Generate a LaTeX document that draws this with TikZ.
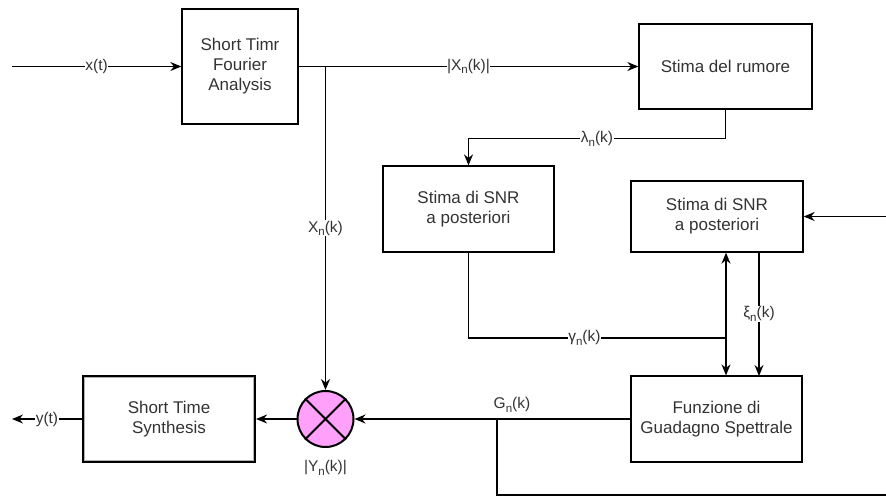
\documentclass[tikz,border=0pt]{standalone}
\usepackage{fontspec}
\setmainfont{Liberation Sans}
\usetikzlibrary{arrows.meta,calc}
\definecolor{txt}{HTML}{333333}
\definecolor{pinkf}{RGB}{255,160,250}
\newcommand\lsub[1]{\raisebox{-0.45ex}{\fontsize{11.5}{12}\selectfont #1}}
\begin{document}
\begin{tikzpicture}[x=1pt,y=-1pt,
  blk/.style={draw=black,line width=1.3pt,text=txt,align=center,font=\fontsize{17}{20}\selectfont,inner sep=0pt},
  conn/.style={line width=1.3pt,draw=black},
  arr/.style={conn,-{Stealth[length=11pt,width=9pt]}},
  lbl/.style={fill=white,text=txt,font=\fontsize{15.5}{18}\selectfont,inner sep=0.5pt}]
\useasboundingbox (0,0) rectangle (886,496);
\node[blk,minimum width=116,minimum height=115] (stfa) at (240,66.5) {Short Timr\\Fourier\\Analysis};
\node[blk,minimum width=173,minimum height=85] (rum) at (725.5,66.5) {Stima del rumore};
\node[blk,minimum width=171,minimum height=86] (snr1) at (468.5,209) {Stima di SNR\\a posteriori};
\node[blk,minimum width=172,minimum height=71] (snr2) at (717,216.5) {Stima di SNR\\a posteriori};
\node[blk,minimum width=171,minimum height=86] (fun) at (716.5,419) {Funzione di\\Guadagno Spettrale};
\node[blk,minimum width=172,minimum height=86,line width=2.2pt] (sts) at (169,419) {Short Time\\Synthesis};
\draw[gray!60,line width=1pt] ($(sts.north west)+(2.6,2.6)$) rectangle ($(sts.south east)+(-2.6,-2.6)$);
\node[circle,draw=black,line width=2pt,fill=pinkf,minimum size=56,inner sep=0pt] (mul) at (325.5,419) {};
\draw[line width=2pt] (mul.45) -- (mul.225) (mul.135) -- (mul.315);
\node[text=txt,font=\fontsize{15.5}{18}\selectfont] (ylab) at (325.5,468) {|Y\lsub{n}(k)|};

\coordinate (in) at (12,66.5);
\coordinate (out) at (12,419);
\coordinate (ein) at (886,216.5);
\coordinate (eout) at (886,495);
\coordinate (br1) at (325.5,66.5);
\coordinate (br2) at (497,419);

\draw[arr] (in) -- node[lbl,pos=0.5]{x(t)} (stfa.west);
\draw[arr] (stfa.east) -- node[lbl,pos=0.5]{|X\lsub{n}(k)|} (rum.west);
\draw[arr] (br1) -- node[lbl,pos=0.5]{X\lsub{n}(k)} (mul.north);
\draw[arr] (rum.south) -- ++(0,29) coordinate (l1) -- node[lbl,pos=0.5]{λ\lsub{n}(k)} (l1 -| snr1.north) -- (snr1.north);
\draw[arr] (ein) -- (snr2.east);
\draw[arr] (fun.west) -- (mul.east);
\node[text=txt,font=\fontsize{15.5}{18}\selectfont] (glab) at (512,405) {G\lsub{n}(k)};
\draw[conn] (br2) -- (br2 |- eout) -- (eout);
\draw[arr] (mul.west) -- (sts.east);
\draw[arr] (sts.west) -- node[lbl,pos=0.5]{y(t)} (out);
\coordinate (gx) at (726,338);
\draw[conn] (snr1.south) -- (snr1.south |- gx) -- node[lbl,pos=0.45]{γ\lsub{n}(k)} (gx);
\draw[conn,{Stealth[length=11pt,width=9pt]}-{Stealth[length=11pt,width=9pt]}] (gx |- snr2.south) -- (gx |- fun.north);
\draw[arr] (759,252) -- node[lbl,pos=0.5]{ξ\lsub{n}(k)} (759,376);
\end{tikzpicture}
\end{document}
